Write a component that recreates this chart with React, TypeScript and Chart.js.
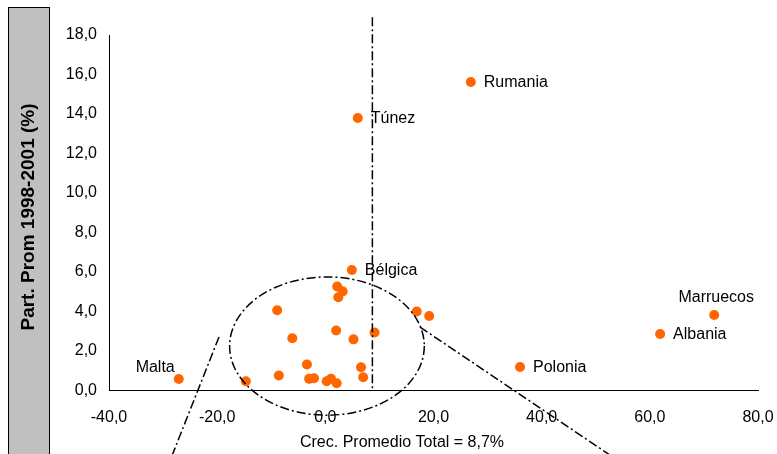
import React, { useEffect, useRef } from "react";
import { Chart, registerables } from "chart.js";

Chart.register(...registerables);

// ---- Data ----
const countries = [
  "Rumania", "Túnez", "Bélgica", "Marruecos", "Albania", "Polonia", "Malta",
  "", "", "", "", "", "", "", "", "", "", "", "", "", "", "", "", "", "", "", "",
];
const growth = [
  26.9, 6.0, 4.9, 71.9, 61.9, 36.0, -27.1,
  2.2, 3.2, 2.4, -8.9, 16.9, 19.2, -6.1, 2.0, 9.1, 5.2, -3.4, 6.6, -8.6, -3.0, -2.1, 0.25, 1.05, 2.1, 7.0, -14.7,
];
const share = [
  15.62, 13.8, 6.1, 3.82, 2.86, 1.19, 0.58,
  5.27, 5.02, 4.72, 4.06, 4.0, 3.77, 2.65, 3.04, 2.94, 2.59, 1.32, 1.18, 0.76, 0.59, 0.62, 0.47, 0.59, 0.37, 0.67, 0.47,
];
const xTickValues = [-40, -20, 0, 20, 40, 60, 80];
const yTickValues = [0, 2, 4, 6, 8, 10, 12, 14, 16, 18];
const averageGrowth = 8.7;
const xTitle = "Crec. Promedio Total = 8,7%";
const yTitle = "Part. Prom 1998-2001 (%)";

// annotation geometry (data units)
const ellipseCenter = [0.3, 2.25];
const ellipseRadii = [18.0, 3.5];
const leftConnector = [[-19.66, 2.71], [-28.35, -3.3]];
const rightConnector = [[17.5, 3.215], [52.8, -3.3]];
const averageLineTop = 18.9;

const labelPlacement: Record<string, string> = {
  Marruecos: "above",
  Malta: "aboveLeft",
};

const FONT = '"Liberation Sans", Arial, sans-serif';
const fmt = (v: number) => v.toFixed(1).replace(".", ",");

const overlay = {
  id: "overlay",
  beforeDraw(chart: any) {
    const ctx = chart.ctx;
    ctx.save();
    ctx.fillStyle = "#c0c0c0";
    ctx.fillRect(8, 7, 41, 460);
    ctx.strokeStyle = "#000";
    ctx.lineWidth = 1;
    ctx.strokeRect(8.5, 7.5, 41, 460);
    ctx.translate(29, 217);
    ctx.rotate(-Math.PI / 2);
    ctx.fillStyle = "#000";
    ctx.font = "bold 19px " + FONT;
    ctx.textAlign = "center";
    ctx.textBaseline = "middle";
    ctx.fillText(yTitle, 0, 0);
    ctx.restore();
  },
  afterDatasetsDraw(chart: any) {
    const ctx = chart.ctx;
    const xs = chart.scales.x;
    const ys = chart.scales.y;
    ctx.save();
    ctx.strokeStyle = "#000";
    ctx.lineWidth = 1.5;
    ctx.setLineDash([9, 3, 2, 3]);

    // average growth line
    const ax = xs.getPixelForValue(averageGrowth);
    ctx.beginPath();
    ctx.moveTo(ax, ys.getPixelForValue(averageLineTop));
    ctx.lineTo(ax, ys.getPixelForValue(0));
    ctx.stroke();

    // ellipse
    const cx = xs.getPixelForValue(ellipseCenter[0]);
    const cy = ys.getPixelForValue(ellipseCenter[1]);
    const rx = Math.abs(xs.getPixelForValue(ellipseCenter[0] + ellipseRadii[0]) - cx);
    const ry = Math.abs(ys.getPixelForValue(ellipseCenter[1] + ellipseRadii[1]) - cy);
    ctx.beginPath();
    ctx.ellipse(cx, cy, rx, ry, 0, 0, Math.PI * 2);
    ctx.stroke();

    // connectors
    for (const seg of [leftConnector, rightConnector]) {
      ctx.beginPath();
      ctx.moveTo(xs.getPixelForValue(seg[0][0]), ys.getPixelForValue(seg[0][1]));
      ctx.lineTo(xs.getPixelForValue(seg[1][0]), ys.getPixelForValue(seg[1][1]));
      ctx.stroke();
    }

    // point labels
    ctx.setLineDash([]);
    ctx.fillStyle = "#000";
    ctx.font = "16px " + FONT;
    ctx.textBaseline = "middle";
    countries.forEach((name, i) => {
      if (!name) return;
      const px = xs.getPixelForValue(growth[i]);
      const py = ys.getPixelForValue(share[i]);
      const place = labelPlacement[name] || "right";
      if (place === "above") {
        ctx.textAlign = "center";
        ctx.fillText(name, px + 2, py - 17);
      } else if (place === "aboveLeft") {
        ctx.textAlign = "right";
        ctx.fillText(name, px - 4, py - 11);
      } else {
        ctx.textAlign = "left";
        ctx.fillText(name, px + 13, py + 1);
      }
    });

    // x title
    ctx.textAlign = "center";
    ctx.fillText(xTitle, 402, 443);
    ctx.restore();
  },
};

export default function App() {
  const ref = useRef<HTMLCanvasElement>(null);
  useEffect(() => {
    if (!ref.current) return;
    const points = growth.map((g, i) => ({ x: g, y: share[i] }));
    const chart = new Chart(ref.current, {
      type: "scatter",
      data: {
        datasets: [
          {
            data: points,
            backgroundColor: "#ff6600",
            borderColor: "#ff6600",
            borderWidth: 0,
            pointRadius: 5,
          },
        ],
      },
      options: {
        animation: false,
        responsive: false,
        devicePixelRatio: 1,
        layout: { padding: { left: 49, top: 35, right: 19, bottom: 0 } },
        plugins: { legend: { display: false }, tooltip: { enabled: false } },
        scales: {
          x: {
            type: "linear",
            min: -40,
            max: 80,
            afterBuildTicks: (axis: any) => {
              axis.ticks = xTickValues.map((v) => ({ value: v }));
            },
            afterFit: (axis: any) => {
              axis.height = 63.5;
              axis.paddingLeft = 0;
              axis.paddingRight = 0;
            },
            grid: { display: false, drawTicks: false },
            border: { display: true, color: "#000", width: 1 },
            ticks: {
              color: "#000",
              font: { family: FONT, size: 16 },
              padding: 17,
              maxRotation: 0,
              callback: (v: any) => fmt(Number(v)),
            },
          },
          y: {
            type: "linear",
            min: 0,
            max: 18,
            afterBuildTicks: (axis: any) => {
              axis.ticks = yTickValues.map((v) => ({ value: v }));
            },
            afterFit: (axis: any) => {
              axis.width = 60;
              axis.paddingTop = 0;
              axis.paddingBottom = 0;
            },
            grid: { display: false, drawTicks: false },
            border: { display: true, color: "#000", width: 1 },
            ticks: {
              color: "#000",
              font: { family: FONT, size: 16 },
              padding: 12,
              callback: (v: any) => fmt(Number(v)),
            },
          },
        },
      },
      plugins: [overlay],
    });
    return () => chart.destroy();
  }, []);
  return (
    <div style={{ position: "fixed", left: 0, top: 0, width: 777, height: 454, background: "#fff" }}>
      <canvas ref={ref} width={777} height={454} style={{ display: "block" }} />
    </div>
  );
}
